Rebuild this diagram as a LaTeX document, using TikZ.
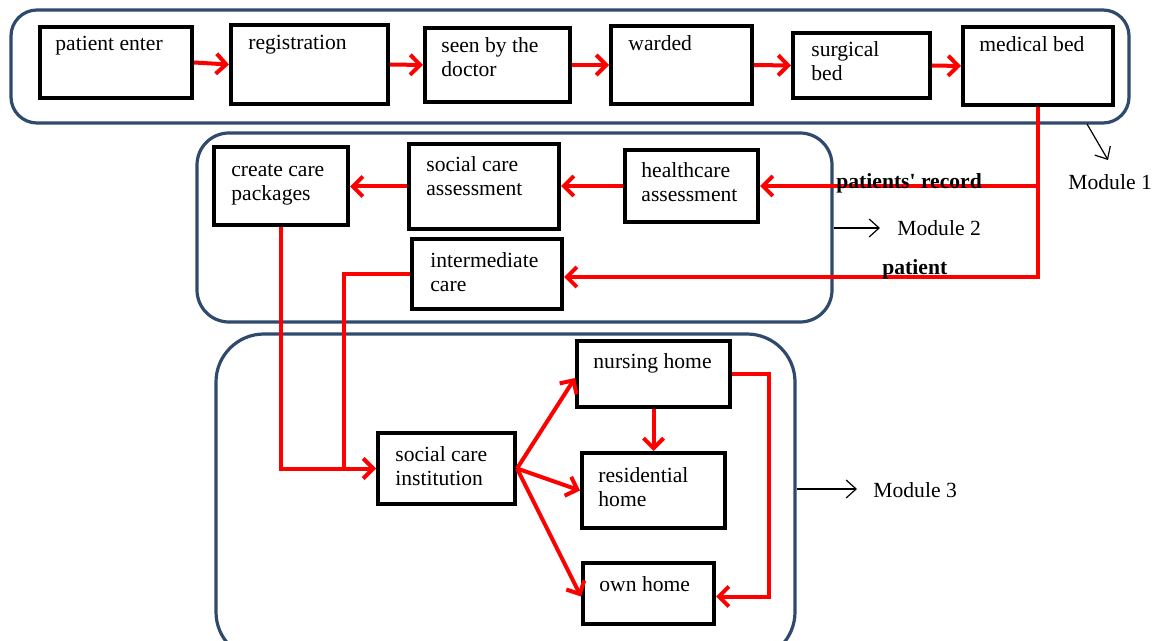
\documentclass[tikz,border=0pt]{standalone}
\usepackage{fontspec}
\setmainfont{Liberation Serif}
\usetikzlibrary{arrows.meta,fit,calc}
\definecolor{modblue}{HTML}{2F4A6D}
\definecolor{flowred}{HTML}{FF0000}
\begin{document}
\begin{tikzpicture}[x=0.5pt,y=-0.5pt,
  box/.style={draw=black,line width=2pt,inner sep=0pt},
  modbox/.style={draw=modblue,line width=1.6pt,inner sep=0pt},
  txt/.style={anchor=base west,inner sep=0pt,font=\fontsize{10.8}{12}\selectfont},
  lbl/.style={anchor=base west,inner sep=0pt,font=\fontsize{10.8}{12}\selectfont\bfseries},
  modtxt/.style={anchor=base west,inner sep=0pt,font=\fontsize{10.8}{12}\selectfont},
  flow/.style={draw=flowred,line width=2pt},
  conn/.style={flow,-{Straight Barb[length=5pt,width=10pt,line width=2pt]}},
  marr/.style={draw=black,line width=0.6pt,-{Straight Barb[length=5pt,width=9pt,line width=0.6pt]}}
]
\clip (0,0) rectangle (1160,641);
\fill[white] (0,0) rectangle (1160,641);

% module boxes
\node[modbox,rounded corners=13pt,fit={(11,10) (1129,123)}] (M1) {};
\node[modbox,rounded corners=16pt,fit={(197,133) (832,322)}] (M2) {};
\node[modbox,rounded corners=24pt,fit={(216,334) (795,660)}] (M3) {};

% module 1 boxes
\node[box,fit={(40,27) (192,98)}] (pe) {};
\node[box,fit={(231,25) (388,104)}] (reg) {};
\node[box,fit={(425,28) (570,102)}] (seen) {};
\node[box,fit={(611,26) (752,104)}] (ward) {};
\node[box,fit={(793,33) (930,98)}] (surg) {};
\node[box,fit={(963,27) (1113,105)}] (med) {};

% module 2 boxes
\node[box,fit={(214,147) (348,225)}] (ccp) {};
\node[box,fit={(409,144) (559,229)}] (sca) {};
\node[box,fit={(625,150) (758,222)}] (hca) {};
\node[box,fit={(412,239) (562,309)}] (ic) {};

% module 3 boxes
\node[box,fit={(577,341) (730,407)}] (nh) {};
\node[box,fit={(378,433) (515,504)}] (sci) {};
\node[box,fit={(582,453) (725,528)}] (rh) {};
\node[box,fit={(583,563) (714,624)}] (oh) {};

% texts
\node[txt] (tpe) at (55,51) {patient enter};
\node[txt] (treg) at (248,50) {registration};
\node[txt] (tseen) at (441,53) {\parbox[t]{4cm}{seen by the\\doctor}};
\node[txt] (tward) at (628,51) {warded};
\node[txt] (tsurg) at (811,57) {\parbox[t]{4cm}{surgical\\bed}};
\node[txt] (tmed) at (979,52) {medical bed};
\node[txt] (tccp) at (231,177) {\parbox[t]{4cm}{create care\\packages}};
\node[txt] (tsca) at (426,172) {\parbox[t]{4cm}{social care\\assessment}};
\node[txt] (thca) at (641,178) {\parbox[t]{4cm}{healthcare\\assessment}};
\node[txt] (tic) at (430,268) {\parbox[t]{4cm}{intermediate\\care}};
\node[txt] (tnh) at (593,368) {nursing home};
\node[txt] (tsci) at (395,461) {\parbox[t]{4cm}{social care\\institution}};
\node[txt] (trh) at (598,482) {\parbox[t]{4cm}{residential\\home}};
\node[txt] (toh) at (599,591) {own home};

% top row flow
\draw[conn] (pe.east) -- (reg.west);
\draw[conn] (reg.east) -- (seen.west);
\draw[conn] (seen.east) -- (ward.west);
\draw[conn] (ward.east) -- (surg.west);
\draw[conn] (surg.east) -- (med.west);

% from medical bed
\draw[conn] (med.south) |- (hca.east);
\draw[conn] (med.south) |- ($(ic.east)+(0,3)$);
\node[lbl] (lrec) at (836,189) {patients\textquotesingle\ record};
\node[lbl] (lpat) at (882,275) {patient};

% module 2 flow
\draw[conn] (hca.west) -- (hca.west -| sca.east);
\draw[conn] (sca.west) -- (sca.west -| ccp.east);
\coordinate (j) at (344,468);
\draw[flow] (ic.west) -| (j);
\draw[conn] (ccp.south) |- (sci.west);

% module 3 flow
\draw[conn] (sci.east) -- ($(nh.west)+(0,4)$);
\draw[conn] (sci.east) -- (rh.west);
\draw[conn] (sci.east) -- ($(oh.west)+(0,3)$);
\draw[conn] (nh.south) -- (nh.south |- rh.north);
\draw[conn] (nh.east) -- ++(37,0) |- ($(oh.east)+(0,3)$);

% module labels
\coordinate (m1a) at (1087,124);
\coordinate (m1b) at (1108,160);
\draw[marr] (m1a) -- (m1b);
\node[modtxt] (m1t) at (1068,190) {Module 1};
\coordinate (m2b) at (880,228);
\draw[marr] (M2.east |- m2b) -- (m2b);
\node[modtxt] (m2t) at (897,236) {Module 2};
\coordinate (m3b) at (857,489);
\draw[marr] (M3.east |- m3b) -- (m3b);
\node[modtxt] (m3t) at (873,497) {Module 3};
\end{tikzpicture}
\end{document}
